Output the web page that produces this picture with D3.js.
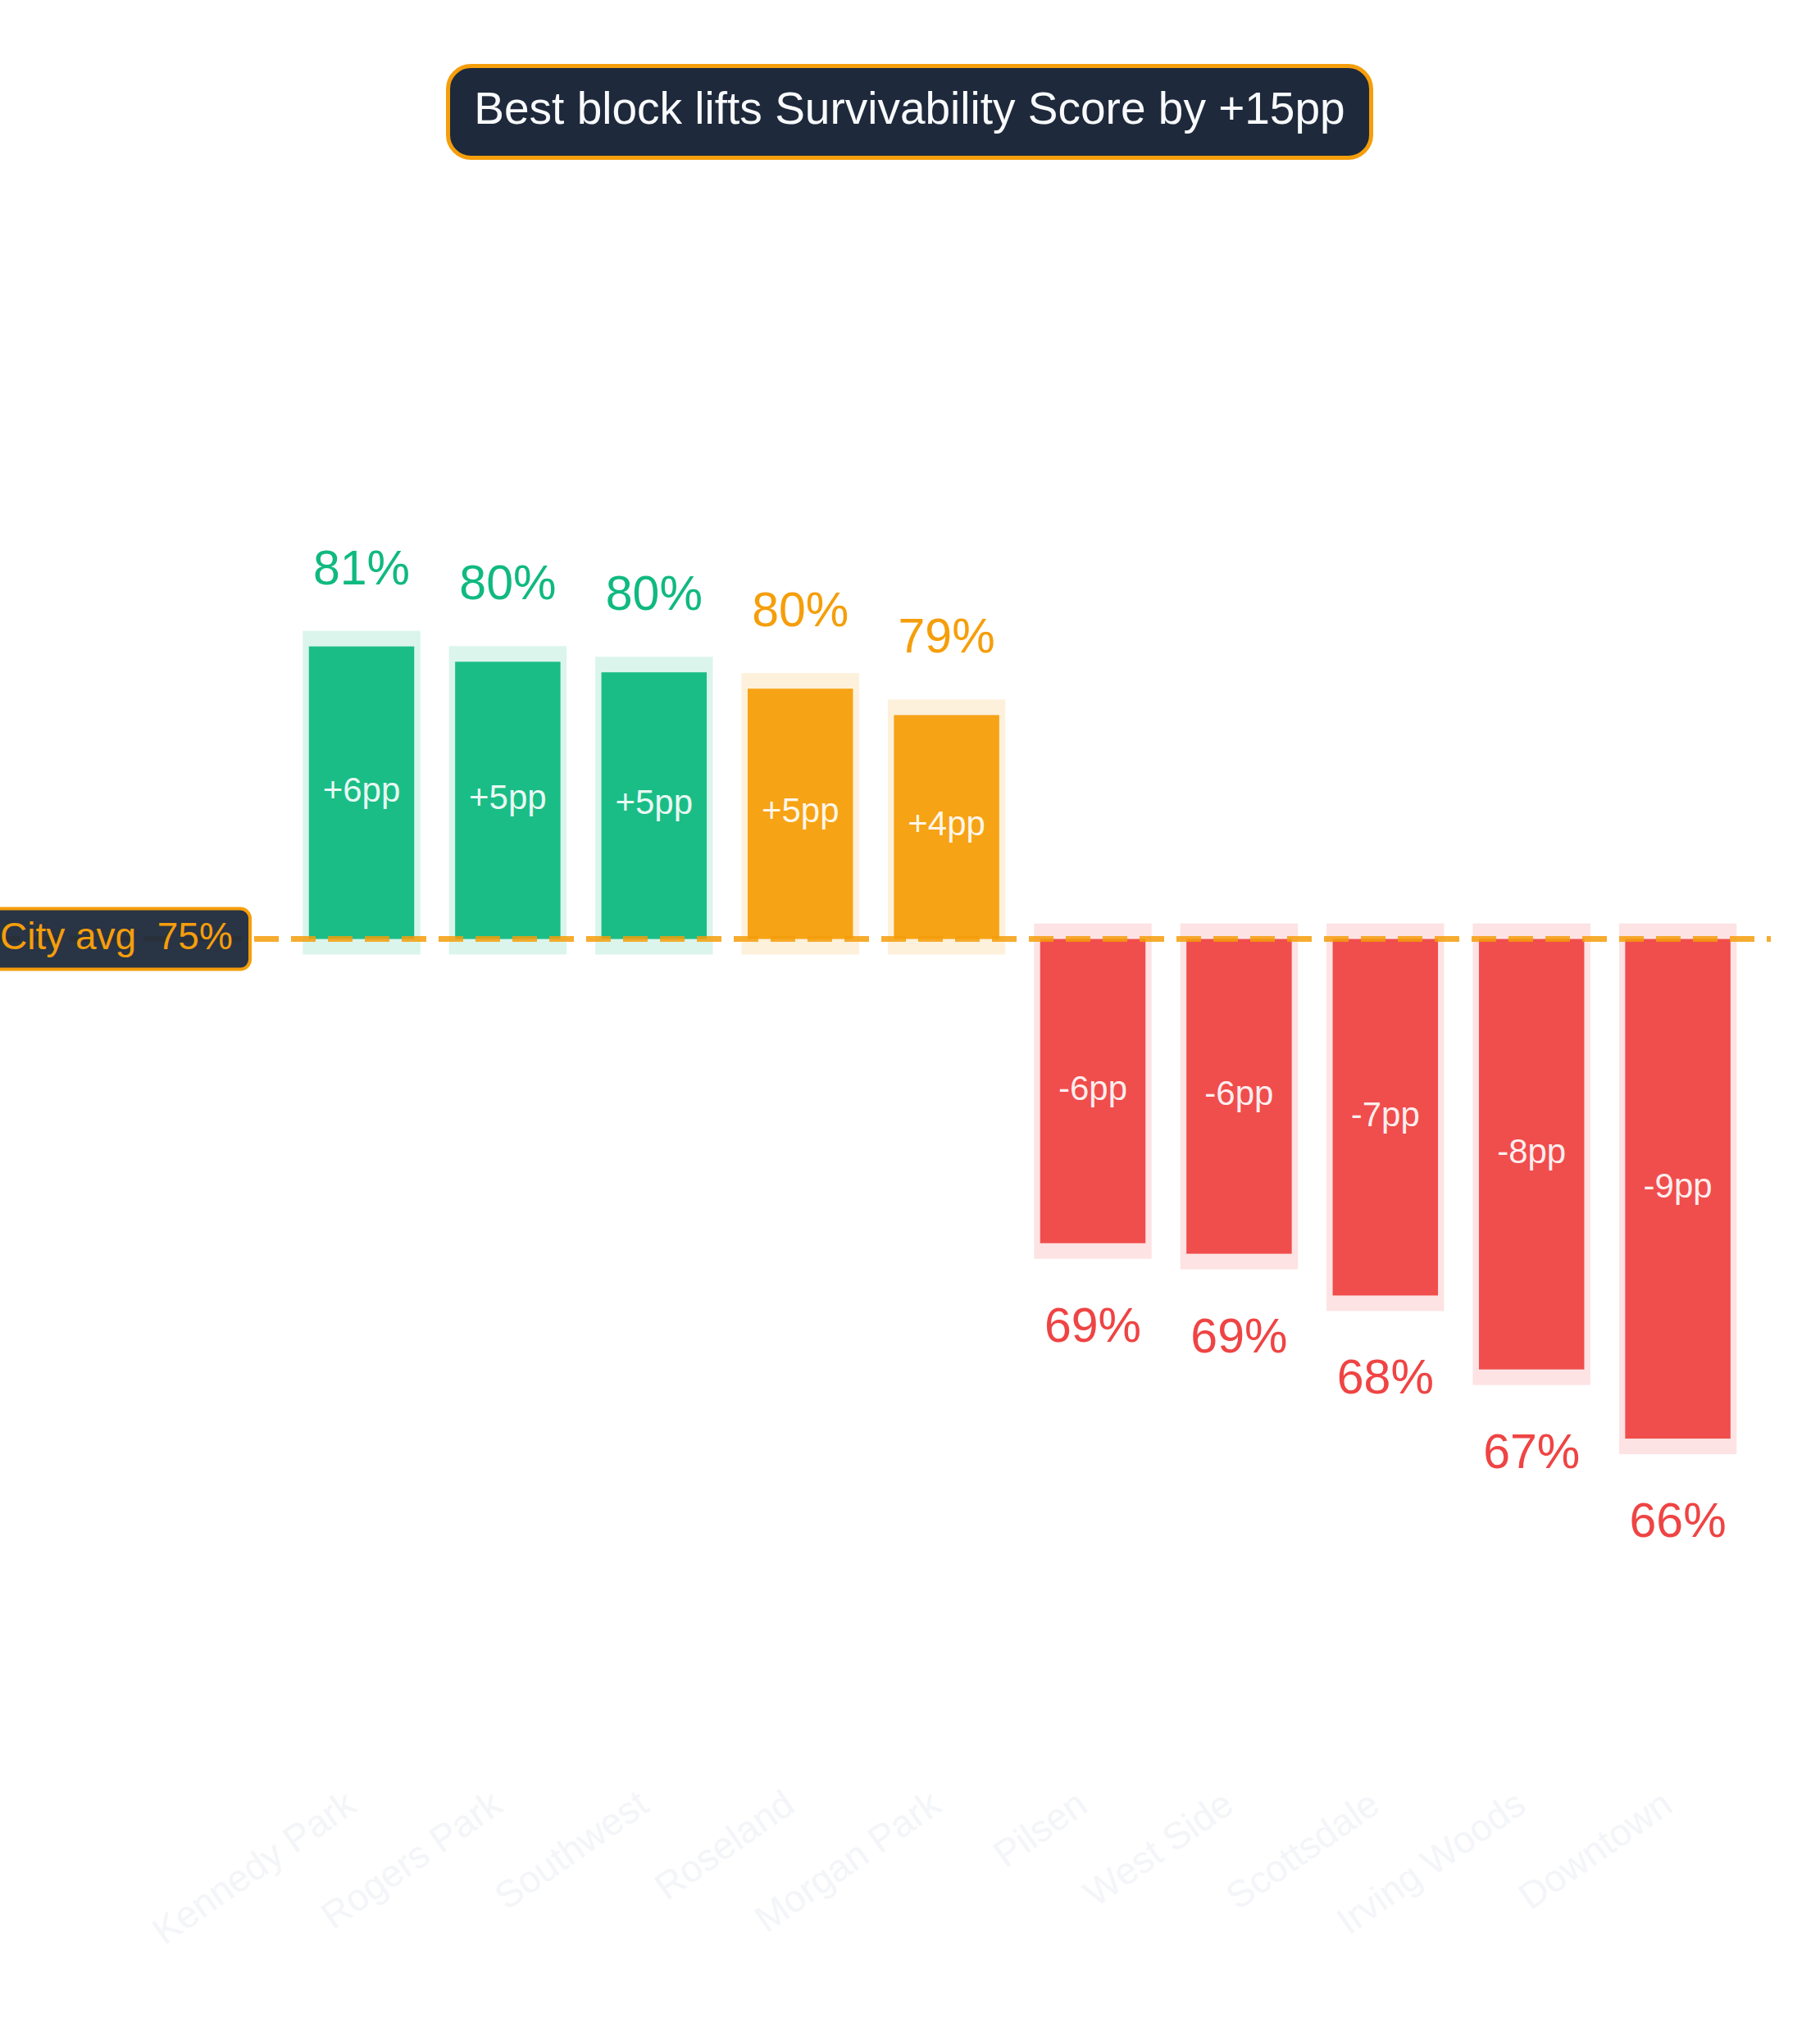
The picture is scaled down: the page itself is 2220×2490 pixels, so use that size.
<!DOCTYPE html>
<html>
<head>
<meta charset="utf-8">
<script src="https://cdn.jsdelivr.net/npm/d3@7/dist/d3.min.js"></script>
<style>
  html, body { margin: 0; padding: 0; background: #ffffff; }
  svg { display: block; }
  text { font-family: "Liberation Sans", Arial, Helvetica, sans-serif; }
</style>
</head>
<body>
<svg id="chart" width="2220" height="2490"></svg>
<script>
// ---- data ----
const neighborhoods = ["Kennedy Park", "Rogers Park", "Southwest", "Roseland", "Morgan Park",
                       "Pilsen", "West Side", "Scottsdale", "Irving Woods", "Downtown"];
const scores = [80.54, 80.25, 80.05, 79.74, 79.24, 69.24, 69.04, 68.25, 66.85, 65.54];
const cityAvg = 75;
const metricName = "Survivability Score";

// ---- layout ----
const W = 2220, H = 2490;
const svg = d3.select("#chart");
svg.append("rect").attr("width", W).attr("height", H).attr("fill", "#ffffff");

const x = d3.scaleBand().domain(neighborhoods).range([351.8, 2135.8])
  .paddingInner(0.28).paddingOuter(0.14);
const y = d3.scaleLinear().domain([59.1, 88.9]).range([2170, 250]);

const GREEN = "#10b981", AMBER = "#f59e0b", RED = "#ef4444";
const colorFor = d => d < 0 ? RED : (d >= 5 ? GREEN : AMBER);

const data = neighborhoods.map((n, i) => ({ name: n, v: scores[i], d: scores[i] - cityAvg }));

const padX = 7.5, padY = 19;

// halos
svg.append("g").selectAll("rect").data(data).join("rect")
  .attr("x", d => x(d.name) - padX)
  .attr("width", x.bandwidth() + 2 * padX)
  .attr("y", d => Math.min(y(d.v), y(cityAvg)) - padY)
  .attr("height", d => Math.abs(y(d.v) - y(cityAvg)) + 2 * padY)
  .attr("fill", d => colorFor(d.d))
  .attr("fill-opacity", 0.15);

// bars
svg.append("g").selectAll("rect").data(data).join("rect")
  .attr("x", d => x(d.name))
  .attr("width", x.bandwidth())
  .attr("y", d => Math.min(y(d.v), y(cityAvg)))
  .attr("height", d => Math.abs(y(d.v) - y(cityAvg)))
  .attr("fill", d => colorFor(d.d))
  .attr("fill-opacity", 0.95);

// delta labels inside bars
svg.append("g").selectAll("text").data(data).join("text")
  .attr("x", d => x(d.name) + x.bandwidth() / 2)
  .attr("y", d => (y(d.v) + y(cityAvg)) / 2)
  .attr("dy", "0.25em")
  .attr("text-anchor", "middle")
  .attr("font-size", 42)
  .attr("fill", "#ffffff")
  .attr("fill-opacity", 0.92)
  .text(d => (d.d > 0 ? "+" : "") + Math.round(d.d) + "pp");

// value labels
svg.append("g").selectAll("text").data(data).join("text")
  .attr("x", d => x(d.name) + x.bandwidth() / 2)
  .attr("y", d => d.d >= 0 ? y(d.v) - 76 : y(d.v) + 120)
  .attr("text-anchor", "middle")
  .attr("font-size", 59)
  .attr("fill", d => colorFor(d.d))
  .text(d => Math.round(d.v) + "%");

// city average dashed line
svg.append("line")
  .attr("x1", 0).attr("x2", 2160)
  .attr("y1", y(cityAvg)).attr("y2", y(cityAvg))
  .attr("stroke", AMBER).attr("stroke-opacity", 0.85)
  .attr("stroke-width", 7)
  .attr("stroke-dasharray", "30,15")
  .attr("stroke-dashoffset", 5);

// city avg badge
const badge = svg.append("g");
badge.append("rect")
  .attr("x", -20).attr("y", y(cityAvg) - 37)
  .attr("width", 325).attr("height", 74)
  .attr("rx", 12)
  .attr("fill", "#1e293b").attr("fill-opacity", 0.95)
  .attr("stroke", AMBER).attr("stroke-width", 4);
badge.append("text")
  .attr("x", 0).attr("y", y(cityAvg) + 12)
  .attr("font-size", 46)
  .attr("fill", AMBER)
  .style("white-space", "pre")
  .text("City avg  " + cityAvg + "%");

// category axis (labels only)
const axis = svg.append("g")
  .attr("transform", "translate(0,2170)")
  .call(d3.axisBottom(x).tickSize(0));
axis.select(".domain").remove();
axis.selectAll("text")
  .attr("x", 0).attr("y", 0).attr("dy", null)
  .attr("transform", "translate(-4,38) rotate(-35)")
  .attr("text-anchor", "end")
  .attr("font-size", 46)
  .attr("font-family", "Liberation Sans, Arial, Helvetica, sans-serif")
  .attr("fill", "#f3f5f8");

// title badge
const spread = Math.round(d3.max(scores) - d3.min(scores));
const title = svg.append("g");
title.append("rect")
  .attr("x", 546.5).attr("y", 80.5)
  .attr("width", 1126).attr("height", 112)
  .attr("rx", 28)
  .attr("fill", "#1e293b")
  .attr("stroke", AMBER).attr("stroke-width", 5);
title.append("text")
  .attr("x", 1109.5).attr("y", 151)
  .attr("text-anchor", "middle")
  .attr("font-size", 55)
  .attr("fill", "#f8fafc")
  .text("Best block lifts " + metricName + " by +" + spread + "pp");
</script>
</body>
</html>
